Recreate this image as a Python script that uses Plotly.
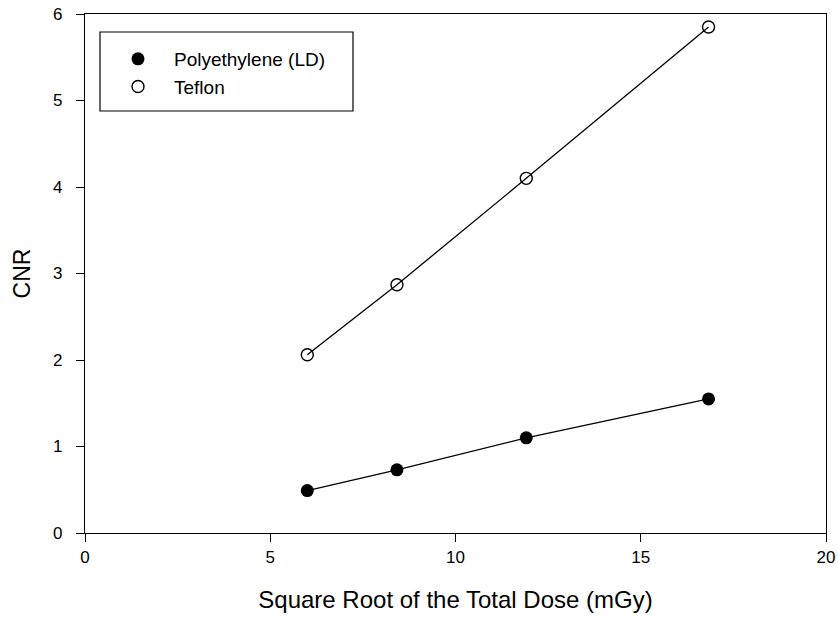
import plotly.graph_objects as go

# Square root of the total dose (mGy) for each acquisition
dose_sqrt = [6.0, 8.42, 11.91, 16.83]

# Contrast-to-noise ratio per material
cnr_polyethylene = [0.49, 0.73, 1.10, 1.55]
cnr_teflon = [2.06, 2.87, 4.10, 5.85]

x_ticks = [0, 5, 10, 15, 20]
y_ticks = [0, 1, 2, 3, 4, 5, 6]

FONT = "Arial, Liberation Sans, sans-serif"
W, H = 838, 622
ML, MR, MT, MB = 85, 12, 14, 89
PW, PH = W - ML - MR, H - MT - MB


def px_x(p):
    return (p - ML) / PW


def px_y(p):
    return (H - MB - p) / PH


fig = go.Figure()

# connecting lines (kept out of the legend)
for cnr in (cnr_polyethylene, cnr_teflon):
    fig.add_trace(go.Scatter(
        x=dose_sqrt, y=cnr, mode="lines", showlegend=False,
        line=dict(color="black", width=1.3), hoverinfo="skip",
    ))

fig.add_trace(go.Scatter(
    x=dose_sqrt, y=cnr_polyethylene, mode="markers",
    name="Polyethylene (LD)",
    marker=dict(symbol="circle", size=13, color="black"),
))
fig.add_trace(go.Scatter(
    x=dose_sqrt, y=cnr_teflon, mode="markers",
    name="Teflon",
    marker=dict(symbol="circle-open", size=12, color="black",
                line=dict(width=1.4, color="black")),
))

# legend frame
fig.add_shape(type="rect", xref="paper", yref="paper",
              x0=px_x(100), x1=px_x(353), y0=px_y(111), y1=px_y(32),
              line=dict(color="black", width=1.2), fillcolor="white", layer="below")

axis_common = dict(ticks="outside", ticklen=8, tickwidth=1.2, tickcolor="black",
                   showline=True, linecolor="black", linewidth=1.3, mirror=True,
                   showgrid=False, zeroline=False, automargin=False,
                   tickfont=dict(size=17))

fig.update_layout(
    width=W, height=H,
    margin=dict(l=ML, r=MR, t=MT, b=MB),
    paper_bgcolor="white", plot_bgcolor="white",
    font=dict(family=FONT, color="black", size=17),
    showlegend=True,
    legend=dict(x=px_x(102), y=px_y(40), xanchor="left", yanchor="top",
                bgcolor="rgba(0,0,0,0)", borderwidth=0,
                font=dict(family=FONT, size=19, color="black"),
                itemwidth=62, tracegroupgap=0),
    xaxis=dict(range=[0, 20], tickvals=x_ticks,
               title=dict(text="Square Root of the Total Dose (mGy)",
                          font=dict(size=24), standoff=25),
               **axis_common),
    yaxis=dict(range=[0, 6], tickvals=y_ticks, ticklabelstandoff=10,
               title=dict(text="CNR", font=dict(size=23), standoff=15),
               **axis_common),
)

fig.write_html("out.html")
